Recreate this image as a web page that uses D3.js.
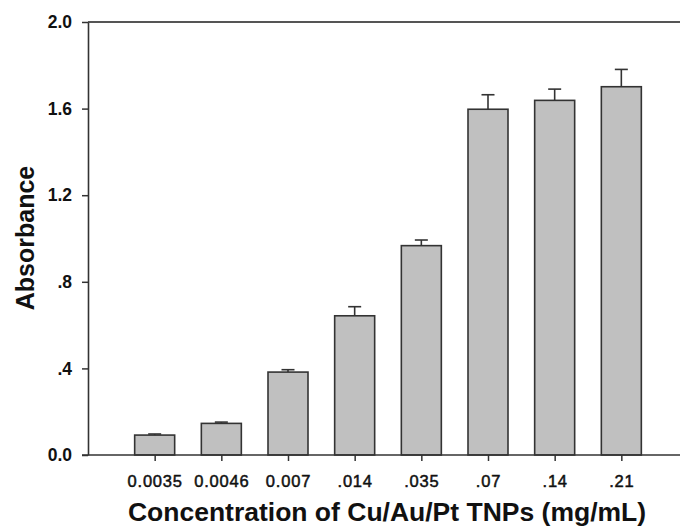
<!DOCTYPE html>
<html>
<head>
<meta charset="utf-8">
<script src="https://cdn.jsdelivr.net/npm/d3@7"></script>
<style>
  body { margin: 0; background: #fff; }
  svg { display: block; font-family: "Liberation Sans", Arial, sans-serif; }
</style>
</head>
<body>
<div id="main"></div>
<script>
// data
const concentrations = ["0.0035", "0.0046", "0.007", ".014", ".035", ".07", ".14", ".21"];
const absorbance = [0.092, 0.146, 0.383, 0.643, 0.967, 1.597, 1.638, 1.701];
const errUpper = [0.005, 0.006, 0.011, 0.042, 0.026, 0.067, 0.052, 0.080];
const yTicks = [0, 0.4, 0.8, 1.2, 1.6, 2.0];
const yTickLabels = ["0.0", ".4", ".8", "1.2", "1.6", "2.0"];

const ctx = {
    w: 680,
    h: 529,
    left: 88,
    right: 688,
    top: 22,
    bottom: 455,
    barW: 40,
    capW: 13,
};

function createViz() {
    const svg = d3.select("#main").append("svg")
        .attr("width", ctx.w)
        .attr("height", ctx.h);

    const xScale = d3.scalePoint()
        .domain(concentrations)
        .range([ctx.left, ctx.right])
        .padding(1);

    const yScale = d3.scaleLinear()
        .domain([0, 2])
        .range([ctx.bottom, ctx.top]);

    // top frame line
    svg.append("line")
        .attr("x1", ctx.left).attr("x2", ctx.w)
        .attr("y1", yScale(2)).attr("y2", yScale(2))
        .attr("stroke", "#555")
        .attr("stroke-width", 2);

    // bars
    svg.selectAll("rect.bar")
        .data(absorbance)
        .enter()
        .append("rect")
        .attr("class", "bar")
        .attr("x", (d, i) => xScale(concentrations[i]) - ctx.barW / 2)
        .attr("y", d => yScale(d))
        .attr("width", ctx.barW)
        .attr("height", d => yScale(0) - yScale(d))
        .attr("fill", "#c0c0c0")
        .attr("stroke", "#333")
        .attr("stroke-width", 1.6);

    // error bars (upper only)
    const eb = svg.selectAll("g.err")
        .data(absorbance)
        .enter()
        .append("g")
        .attr("class", "err")
        .attr("stroke", "#333")
        .attr("stroke-width", 1.6);
    eb.append("line")
        .attr("x1", (d, i) => xScale(concentrations[i]))
        .attr("x2", (d, i) => xScale(concentrations[i]))
        .attr("y1", d => yScale(d))
        .attr("y2", (d, i) => yScale(d + errUpper[i]));
    eb.append("line")
        .attr("x1", (d, i) => xScale(concentrations[i]) - ctx.capW / 2)
        .attr("x2", (d, i) => xScale(concentrations[i]) + ctx.capW / 2)
        .attr("y1", (d, i) => yScale(d + errUpper[i]))
        .attr("y2", (d, i) => yScale(d + errUpper[i]));

    // axes
    const yAxis = d3.axisLeft(yScale)
        .tickValues(yTicks)
        .tickFormat((d, i) => yTickLabels[i])
        .tickSize(6)
        .tickSizeOuter(0)
        .tickPadding(10);
    const gy = svg.append("g")
        .attr("transform", `translate(${ctx.left},0)`)
        .call(yAxis);
    gy.select(".domain").attr("stroke", "#333").attr("stroke-width", 1.6);
    gy.selectAll(".tick line").attr("stroke", "#333").attr("stroke-width", 1.5);
    gy.selectAll(".tick text")
        .style("font-family", "Liberation Sans, Arial, sans-serif")
        .style("font-size", "17.5px")
        .style("font-weight", "bold")
        .attr("fill", "#111");

    const xAxis = d3.axisBottom(xScale)
        .tickSize(6)
        .tickSizeOuter(0)
        .tickPadding(14);
    const gx = svg.append("g")
        .attr("transform", `translate(0,${ctx.bottom})`)
        .call(xAxis);
    gx.select(".domain").remove();
    gx.append("line")
        .attr("x1", ctx.left - 6).attr("x2", ctx.w)
        .attr("y1", 0).attr("y2", 0)
        .attr("stroke", "#333")
        .attr("stroke-width", 1.6);
    gx.selectAll(".tick line").attr("stroke", "#333").attr("stroke-width", 1.5);
    gx.selectAll(".tick text")
        .style("font-family", "Liberation Sans, Arial, sans-serif")
        .style("font-size", "16.5px")
        .style("letter-spacing", "0.8px")
        .attr("fill", "#111")
        .attr("stroke", "#111")
        .attr("stroke-width", 0.5);

    // axis titles
    svg.append("text")
        .attr("transform", "translate(34,238) rotate(-90)")
        .style("text-anchor", "middle")
        .style("font-size", "25px")
        .style("font-weight", "bold")
        .attr("fill", "#111")
        .text("Absorbance");

    svg.append("text")
        .attr("x", 387)
        .attr("y", 521)
        .style("text-anchor", "middle")
        .style("font-size", "26.5px")
        .style("font-weight", "bold")
        .attr("fill", "#111")
        .text("Concentration of Cu/Au/Pt TNPs (mg/mL)");
}

createViz();
</script>
</body>
</html>
